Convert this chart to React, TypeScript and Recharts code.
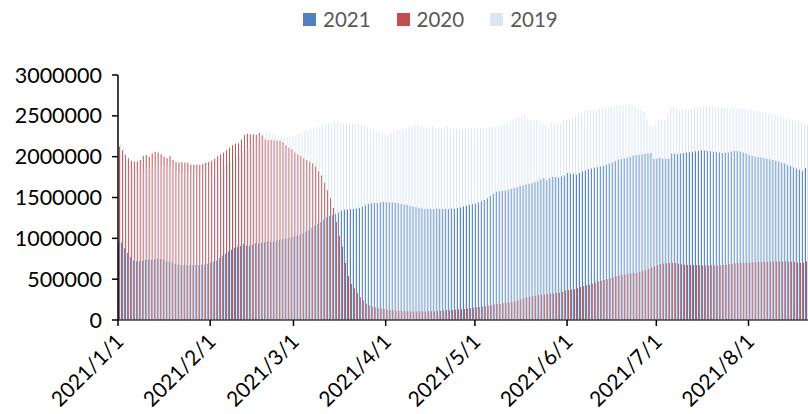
import { BarChart, Bar, XAxis, YAxis } from "recharts";

// daily values, in thousands, 2021/1/1 .. 2021/8/20
const s2021 = [
  950, 945, 880, 820, 770, 730, 720, 715, 725, 735,
  740, 735, 740, 750, 748, 742, 720, 712, 705, 690,
  678, 672, 675, 670, 672, 675, 673, 670, 676, 680,
  690, 700, 712, 730, 758, 790, 815, 840, 860, 885,
  895, 905, 930, 912, 908, 925, 940, 938, 945, 950,
  960, 955, 962, 970, 980, 990, 995, 1000, 1010, 1025,
  1035, 1045, 1060, 1080, 1100, 1130, 1155, 1180, 1200, 1230,
  1260, 1275, 1285, 1300, 1315, 1340, 1350, 1352, 1355, 1358,
  1365, 1375, 1390, 1405, 1420, 1430, 1435, 1432, 1440, 1445,
  1442, 1438, 1440, 1435, 1430, 1420, 1415, 1410, 1400, 1390,
  1380, 1370, 1365, 1360, 1362, 1358, 1360, 1365, 1362, 1360,
  1358, 1360, 1365, 1362, 1370, 1378, 1390, 1400, 1410, 1418,
  1425, 1440, 1455, 1470, 1490, 1520, 1545, 1570, 1578, 1580,
  1585, 1595, 1605, 1615, 1625, 1640, 1650, 1660, 1668, 1675,
  1690, 1700, 1725, 1740, 1712, 1735, 1755, 1750, 1745, 1760,
  1770, 1800, 1795, 1790, 1780, 1800, 1820, 1830, 1845, 1855,
  1865, 1870, 1880, 1890, 1900, 1915, 1925, 1945, 1965, 1972,
  1980, 1990, 2000, 2010, 2020, 2025, 2030, 2035, 2040, 2045,
  1970, 1975, 1985, 1975, 1970, 1975, 2040, 2035, 2030, 2040,
  2045, 2050, 2055, 2060, 2065, 2070, 2078, 2075, 2070, 2065,
  2060, 2055, 2050, 2045, 2048, 2050, 2060, 2070, 2068, 2062,
  2050, 2035, 2020, 2010, 2000, 1995, 1990, 1982, 1975, 1968,
  1958, 1950, 1940, 1925, 1915, 1895, 1885, 1868, 1855, 1840,
  1820, 1860,
];

const s2020 = [
  2120, 2080, 2020, 1980, 1950, 1940, 1945, 1960, 2010, 2020,
  2000, 2040, 2060, 2050, 2030, 2000, 1980, 2010, 1960, 1935,
  1930, 1932, 1928, 1930, 1905, 1900, 1902, 1900, 1910, 1925,
  1935, 1950, 1975, 2005, 2030, 2050, 2080, 2110, 2140, 2160,
  2165, 2210, 2265, 2280, 2275, 2270, 2268, 2290, 2260, 2210,
  2200, 2205, 2200, 2198, 2195, 2180, 2140, 2110, 2090, 2050,
  2030, 2010, 1980, 1960, 1940, 1920, 1880, 1820, 1770, 1680,
  1590, 1490, 1370, 1200, 1030, 900, 700, 540, 440, 390,
  330, 280, 240, 200, 180, 165, 155, 145, 140, 135,
  130, 122, 118, 115, 112, 110, 108, 106, 105, 104,
  105, 106, 105, 104, 106, 107, 108, 110, 112, 115,
  118, 120, 122, 125, 128, 132, 136, 140, 145, 150,
  155, 160, 165, 170, 175, 185, 190, 195, 200, 205,
  210, 213, 218, 225, 240, 255, 265, 275, 285, 290,
  298, 305, 310, 312, 315, 320, 325, 330, 335, 345,
  360, 368, 372, 378, 390, 405, 415, 425, 432, 445,
  460, 470, 480, 490, 500, 515, 525, 535, 545, 550,
  555, 565, 570, 575, 580, 590, 600, 610, 625, 640,
  655, 670, 685, 690, 695, 700, 702, 698, 690, 682,
  678, 675, 672, 670, 672, 670, 668, 670, 668, 670,
  668, 668, 670, 672, 678, 685, 690, 695, 698, 700,
  702, 700, 703, 705, 708, 710, 710, 712, 714, 715,
  715, 716, 716, 715, 716, 714, 712, 710, 705, 700,
  702, 718,
];

const s2019 = [
  2160, 2100, 1960, 1900, 1860, 1840, 1830, 1830, 1845, 1860,
  1870, 1875, 1880, 1885, 1890, 1890, 1885, 1880, 1860, 1830,
  1810, 1800, 1800, 1795, 1800, 1800, 1798, 1795, 1800, 1805,
  1810, 1820, 1835, 1850, 1865, 1880, 1900, 1930, 1960, 1990,
  2020, 2050, 2080, 2110, 2150, 2190, 2230, 2260, 2290, 2310,
  2300, 2280, 2265, 2250, 2240, 2235, 2240, 2245, 2255, 2270,
  2285, 2295, 2310, 2320, 2335, 2350, 2360, 2370, 2385, 2400,
  2410, 2415, 2420, 2420, 2415, 2410, 2410, 2408, 2405, 2400,
  2398, 2395, 2385, 2370, 2345, 2330, 2310, 2300, 2290, 2280,
  2285, 2295, 2310, 2320, 2330, 2340, 2355, 2365, 2370, 2385,
  2400, 2380, 2365, 2350, 2360, 2370, 2355, 2350, 2350, 2360,
  2370, 2355, 2340, 2338, 2335, 2335, 2340, 2338, 2342, 2345,
  2350, 2352, 2355, 2358, 2360, 2362, 2368, 2372, 2385, 2400,
  2420, 2440, 2455, 2470, 2490, 2505, 2520, 2470, 2440, 2445,
  2455, 2420, 2400, 2380, 2365, 2420, 2415, 2405, 2410, 2440,
  2455, 2465, 2480, 2495, 2525, 2540, 2555, 2565, 2570, 2575,
  2578, 2580, 2590, 2600, 2605, 2612, 2620, 2625, 2630, 2632,
  2635, 2633, 2630, 2610, 2580, 2565, 2550, 2460, 2380, 2375,
  2400, 2440, 2460, 2455, 2530, 2610, 2600, 2585, 2575, 2570,
  2568, 2575, 2585, 2595, 2600, 2610, 2620, 2618, 2620, 2615,
  2610, 2605, 2600, 2600, 2598, 2595, 2595, 2592, 2590, 2588,
  2580, 2575, 2570, 2565, 2560, 2555, 2548, 2540, 2530, 2520,
  2510, 2500, 2490, 2480, 2470, 2460, 2450, 2440, 2430, 2415,
  2405, 2390,
];

const monthTicks = [
  "2021/1/1", "2021/2/1", "2021/3/1", "2021/4/1",
  "2021/5/1", "2021/6/1", "2021/7/1", "2021/8/1",
];
const yTicks = [0, 500000, 1000000, 1500000, 2000000, 2500000, 3000000];

const seriesInfo = [
  { key: "y2021", name: "2021", color: "#4F81BD" },
  { key: "y2020", name: "2020", color: "#C0504D" },
  { key: "y2019", name: "2019", color: "#DCE6F2" },
];

const FONT = "Lato, 'Open Sans', sans-serif";

const dates = s2021.map((_, i) => {
  const d = new Date(2021, 0, 1 + i);
  return `${d.getFullYear()}/${d.getMonth() + 1}/${d.getDate()}`;
});

const data = dates.map((date, i) => ({
  date,
  y2021: s2021[i] * 1000,
  y2020: s2020[i] * 1000,
  y2019: s2019[i] * 1000,
}));

function DateTick(props: any) {
  const { x, y, payload } = props;
  if (!monthTicks.includes(payload.value)) return null;
  const x0 = x - 1.5;
  return (
    <g>
      <line x1={x0} y1={y} x2={x0} y2={y + 6} stroke="#000" strokeWidth={1.5} />
      <text
        transform={`translate(${x0 + 7},${y + 23}) rotate(-45)`}
        textAnchor="end"
        fontSize={21}
        fontFamily={FONT}
        fill="#000"
      >
        {payload.value}
      </text>
    </g>
  );
}

function TopLegend() {
  return (
    <div
      style={{
        position: "absolute",
        left: 303,
        top: 7,
        display: "flex",
        alignItems: "center",
        fontFamily: FONT,
        fontSize: 20.5,
        color: "#595959",
      }}
    >
      {seriesInfo.map((s) => (
        <div key={s.key} style={{ display: "flex", alignItems: "center", marginRight: 26 }}>
          <span style={{ width: 13, height: 13, background: s.color, display: "inline-block", marginRight: 7 }} />
          <span>{s.name}</span>
        </div>
      ))}
    </div>
  );
}

export default function App() {
  return (
    <div style={{ position: "absolute", left: 0, top: 0, width: 808, height: 414, background: "#fff" }}>
      <TopLegend />
      <BarChart
        width={808}
        height={414}
        data={data}
        margin={{ top: 75, right: 0, left: 0, bottom: 0 }}
        barCategoryGap={0}
        barGap={0}
      >
        <XAxis
          dataKey="date"
          interval={0}
          height={94}
          tick={<DateTick />}
          tickLine={false}
          tickSize={0}
          tickMargin={0}
          axisLine={{ stroke: "#404040", strokeWidth: 1.5 }}
        />
        <YAxis
          width={118}
          domain={[0, 3000000]}
          ticks={yTicks}
          interval={0}
          tickSize={6}
          tickMargin={10}
          tickLine={{ stroke: "#000", strokeWidth: 1.5 }}
          axisLine={{ stroke: "#000", strokeWidth: 1.5 }}
          tick={{ fill: "#000", fontSize: 21.5, fontFamily: FONT }}
        />
        {seriesInfo.map((s) => (
          <Bar
            key={s.key}
            dataKey={s.key}
            name={s.name}
            fill={s.color}
            isAnimationActive={false}
          />
        ))}
      </BarChart>
    </div>
  );
}
